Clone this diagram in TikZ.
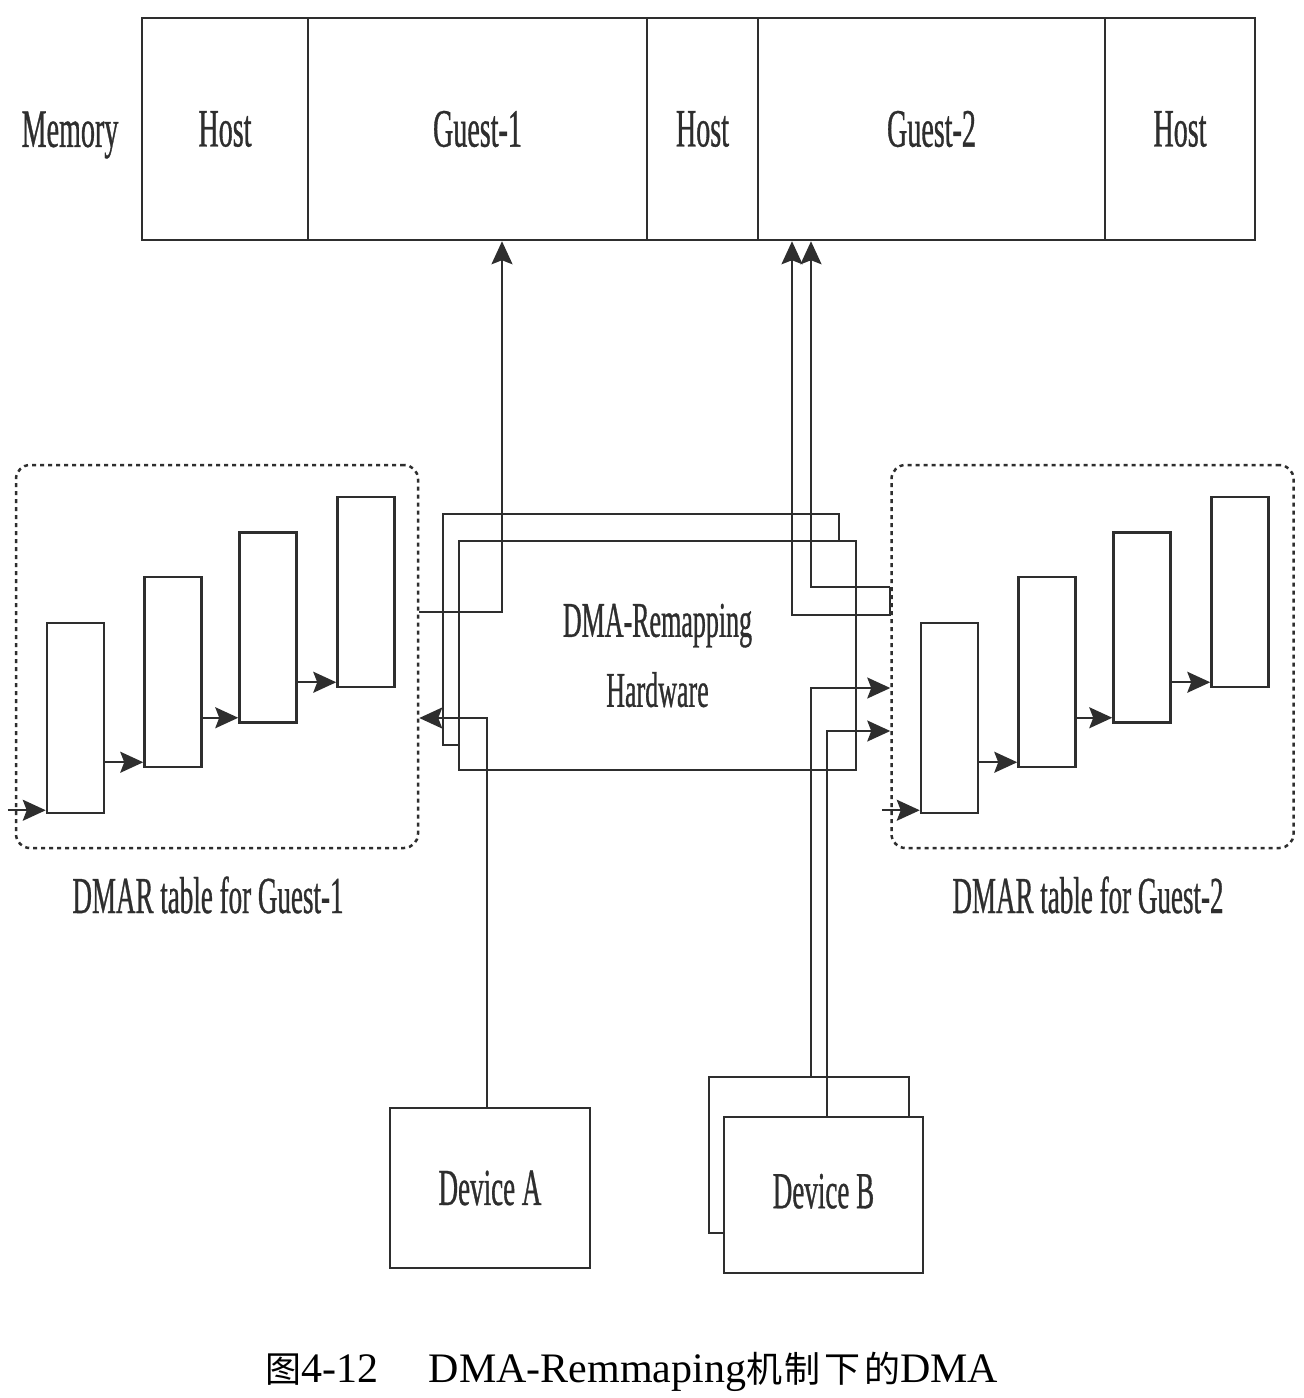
\documentclass[tikz,border=0pt]{standalone}
\usepackage{fontspec}
\setmainfont{Liberation Serif}
\newfontfamily\diagfont[FakeStretch=0.52,FakeBold=0.6]{Liberation Serif}
\newfontfamily\cjk{Noto Sans CJK SC}
\usetikzlibrary{arrows.meta}
\definecolor{ink}{HTML}{2E2E2E}
\tikzset{
    lab/.style={font=\diagfont\fontsize{52}{70}\selectfont, text=ink, inner sep=0pt},
    seg/.style={draw=ink, line width=2.5pt, minimum height=222pt, inner sep=0pt, text=ink, font=\diagfont\fontsize{54}{60}\selectfont},
    entry/.style={draw=ink, line width=2.5pt, minimum width=57pt, minimum height=190pt, inner sep=0pt},
    dmar/.style={draw=ink, line width=2.5pt, dash pattern=on 4pt off 4pt, rounded corners=14pt, minimum width=402pt, minimum height=383pt},
    box/.style={draw=ink, line width=2.5pt, fill=white, inner sep=0pt},
    link/.style={draw=ink, line width=2pt},
    arr/.style={link, -{Stealth[length=23pt,width=21pt,inset=4pt]}}
}
\begin{document}
\begin{tikzpicture}[x=1pt,y=-1pt]
\useasboundingbox (0,0) rectangle (1304,1398);
\fill[white] (0,0) rectangle (1304,1398);
\foreach \n/\t/\a/\b in {h1/Host/142/308, g1/Guest-1/308/647, h2/Host/647/758, g2/Guest-2/758/1105, h3/Host/1105/1255}
    \node[seg, minimum width={(\b-\a)*1pt}] (\n) at ({(\a+\b)/2},129) {\t};
\node[lab, font=\diagfont\fontsize{54}{60}\selectfont] (mem) at (70,135) {Memory};
\node[dmar] (tabL) at (217,656.5) {};
\node[dmar] (tabR) at (1092.5,656.5) {};
\foreach \s/\d in {L/0, R/874} {
    \foreach \i/\x/\y in {1/75.5/718, 2/173/672, 3/268/627.5, 4/366/592}
        \node[entry] (\s\i) at (\x+\d,\y) {};
    \foreach \i/\j in {1/2, 2/3, 3/4} {
        \coordinate (t) at ([yshift=6pt]\s\j.south west);
        \draw[arr] (\s\i.east |- t) -- (t);
    }
    \coordinate (\s0) at ([xshift=-38pt,yshift=4pt]\s1.south west);
    \draw[arr] (\s0) -- (\s0 -| \s1.west);
}
\node[lab] (capL) at (208,895) {DMAR table for Guest-1};
\node[lab] (capR) at (1088,895) {DMAR table for Guest-2};
\node[box, minimum width=396pt, minimum height=231pt] (hwB) at (641,629.5) {};
\node[box, lab, minimum width=397pt, minimum height=229pt, align=center, font=\diagfont\fontsize{50}{70}\selectfont] (hw) at (657.5,655.5) {DMA-Remapping\\Hardware};
\node[box, lab, minimum width=200pt, minimum height=160pt] (devA) at (490,1188) {Device A};
\node[box, minimum width=200pt, minimum height=156pt] (devB2) at (809,1155) {};
\node[box, lab, minimum width=199pt, minimum height=156pt, text depth=8pt] (devB) at (823.5,1195) {Device B};
\coordinate (upL) at (502,612);
\draw[arr] (tabL.east |- upL) -- (upL) -- (upL |- g1.south);
\coordinate (upR1) at (792,615);
\coordinate (upR2) at (811,587);
\draw[arr] (tabR.west |- upR2) -- (upR2) -- (upR2 |- g2.south);
\draw[arr] (tabR.west |- upR2) -- (tabR.west |- upR1) -- (upR1) -- (upR1 |- g2.south);
\coordinate (inA) at (487,718);
\draw[arr] (devA.north -| inA) -- (inA) -- (inA -| tabL.east);
\coordinate (inB2) at (811,688);
\coordinate (inB) at (827,731);
\draw[arr] (devB2.north -| inB2) -- (inB2) -- (inB2 -| tabR.west);
\draw[arr] (devB.north -| inB) -- (inB) -- (inB -| tabR.west);
\node[font=\fontsize{42}{46}\selectfont] (fig) at (632,1372) {{\cjk\fontsize{36}{40}\selectfont 图}4-12\hspace{50pt}DMA-Remmaping{\cjk\fontsize{36}{40}\selectfont 机\hspace{2pt}制\hspace{4pt}下\hspace{4pt}的}DMA};
\end{tikzpicture}
\end{document}
